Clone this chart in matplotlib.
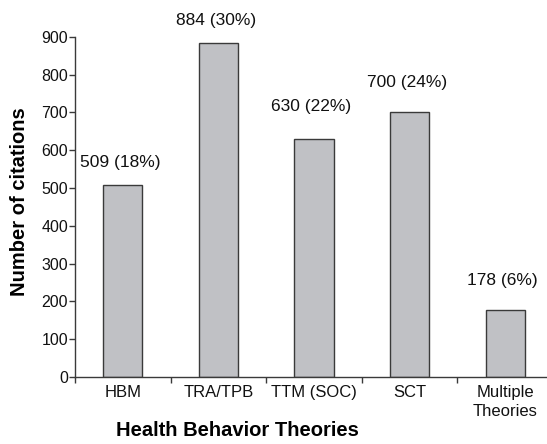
import numpy as np
import matplotlib
matplotlib.use('Agg')
import matplotlib.pyplot as plt

plt.rcParams['font.family'] = ['Liberation Sans', 'DejaVu Sans']

# data
theories = ['HBM', 'TRA/TPB', 'TTM (SOC)', 'SCT', 'Multiple\nTheories']
citations = [509, 884, 630, 700, 178]
percents = [18, 30, 22, 24, 6]

# vertical offset (points) of each value label above its bar
label_gap = [16, 16, 23, 21.5, 21]

fig = plt.figure(figsize=(5.47, 4.44), dpi=100)
ax = fig.add_axes([0.137, 0.151, 0.874, 0.766])

x = np.arange(len(theories))
ax.bar(x, citations, width=0.41, color='#c0c1c5', edgecolor='#3a3a3a', linewidth=1.0)

for xi, c, p, gap in zip(x, citations, percents, label_gap):
    ax.annotate(f'{c} ({p}%)', (xi, c), xytext=(-2, gap), textcoords='offset points',
                ha='center', va='center', fontsize=12.5, color='#111111')

ax.set_xlim(-0.5, len(theories) - 0.5)
ax.set_ylim(0, 900)
ax.set_yticks(np.arange(0, 901, 100))

# category labels at the centres, tick marks between categories
ax.set_xticks(x)
ax.set_xticklabels(theories, fontsize=12, color='#111111', linespacing=1.3)
ax.tick_params(axis='x', which='major', length=0, pad=6)
ax.set_xticks(np.arange(-0.5, len(theories) - 0.5, 1.0), minor=True)
ax.tick_params(axis='x', which='minor', length=4, width=1.0, color='#3a3a3a', direction='out')
ax.tick_params(axis='y', length=4, width=1.0, color='#3a3a3a', labelsize=11.5,
               labelcolor='#111111', pad=1)

for side in ['top', 'right']:
    ax.spines[side].set_visible(False)
for side in ['left', 'bottom']:
    ax.spines[side].set_color('#3a3a3a')
    ax.spines[side].set_linewidth(1.0)

ax.set_xlabel('Health Behavior Theories', fontsize=14.5, fontweight='bold', va='center')
ax.xaxis.set_label_coords(0.339, -0.156)
ax.set_ylabel('Number of citations', fontsize=14.5, fontweight='bold', va='center')
ax.yaxis.set_label_coords(-0.117, 0.515)

fig.savefig('out.png', dpi=100)
